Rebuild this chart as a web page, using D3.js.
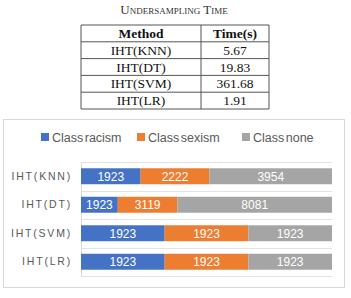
<!DOCTYPE html>
<html><head><meta charset="utf-8">
<script src="https://cdn.jsdelivr.net/npm/d3@7"></script>
<style>body{margin:0;background:#fff}svg{display:block}</style>
</head><body>
<script>
const tableTitle = "Undersampling Time";
const tableHeader = ["Method", "Time(s)"];
const methods = ["IHT(KNN)", "IHT(DT)", "IHT(SVM)", "IHT(LR)"];
const times = ["5.67", "19.83", "361.68", "1.91"];
const seriesNames = ["Class racism", "Class sexism", "Class none"];
const racism = [1923, 1923, 1923, 1923];
const sexism = [2222, 3119, 1923, 1923];
const none = [3954, 8081, 1923, 1923];
const colors = ["#4472C4", "#ED7D31", "#A5A5A5"];

const W = 351, H = 298;
const svg = d3.select("body").append("svg").attr("width", W).attr("height", H);

// Title (small caps)
svg.append("text").attr("x", 174).attr("y", 14).attr("text-anchor", "middle")
  .attr("font-family", "Liberation Serif, serif").attr("font-size", 13)
  .attr("font-variant", "small-caps").attr("fill", "#333").text(tableTitle);

// Table
const tx0 = 81, tx1 = 201, tx2 = 269, ty0 = 25, rh = 16.8;
const rows = [tableHeader].concat(methods.map((m, i) => [m, times[i]]));
const tg = svg.append("g");
rows.forEach((r, i) => {
  const yy = ty0 + i * rh;
  tg.append("text").attr("x", (tx0 + tx1) / 2).attr("y", yy + rh / 2 + 4.5)
    .attr("text-anchor", "middle").attr("font-family", "Liberation Serif, serif")
    .attr("font-size", 13.5).attr("font-weight", i === 0 ? "bold" : "normal").attr("fill", "#111").text(r[0]);
  tg.append("text").attr("x", (tx1 + tx2) / 2).attr("y", yy + rh / 2 + 4.5)
    .attr("text-anchor", "middle").attr("font-family", "Liberation Serif, serif")
    .attr("font-size", 13.5).attr("font-weight", i === 0 ? "bold" : "normal").attr("fill", "#111").text(r[1]);
});
for (let i = 0; i <= rows.length; i++) {
  tg.append("line").attr("x1", tx0).attr("x2", tx2).attr("y1", ty0 + i * rh).attr("y2", ty0 + i * rh)
    .attr("stroke", "#555").attr("stroke-width", 1);
}
[tx0, tx1, tx2].forEach(xx => tg.append("line").attr("x1", xx).attr("x2", xx)
  .attr("y1", ty0).attr("y2", ty0 + rows.length * rh).attr("stroke", "#555").attr("stroke-width", 1));

// Chart frame
svg.append("rect").attr("x", 3.5).attr("y", 119.5).attr("width", 341).attr("height", 168)
  .attr("fill", "#fff").attr("stroke", "#d9d9d9");

// Legend
const legendX = [41, 137, 242];
seriesNames.forEach((s, i) => {
  svg.append("rect").attr("x", legendX[i]).attr("y", 133).attr("width", 8).attr("height", 8).attr("fill", colors[i]);
  svg.append("text").attr("x", legendX[i] + 11).attr("y", 141.5).attr("font-family", "Liberation Sans, Arial, sans-serif")
    .attr("font-size", 12.5).attr("word-spacing", -2).attr("fill", "#595959").text(s);
});

// Plot
const pLeft = 81, pRight = 332, pTop = 162, pBottom = 276;
const y = d3.scaleBand().domain(methods).range([pTop, pBottom]).paddingInner(0.44).paddingOuter(0.22);
const x = d3.scaleLinear().domain([0, 1]).range([pLeft, pRight]);
const data = methods.map((m, i) => ({ m, vals: [racism[i], sexism[i], none[i]] }));

// band gridlines
const bandStep = (pBottom - pTop) / methods.length;
for (let i = 0; i <= methods.length; i++) {
  const yy = Math.round(pTop + i * bandStep) + 0.5;
  svg.append("line").attr("x1", pLeft).attr("x2", pRight).attr("y1", yy).attr("y2", yy)
    .attr("stroke", "#e3e3e3").attr("stroke-width", 1);
}
svg.append("line").attr("x1", pLeft + 0.5).attr("x2", pLeft + 0.5).attr("y1", pTop).attr("y2", pBottom)
  .attr("stroke", "#d9d9d9");

data.forEach(d => {
  const total = d3.sum(d.vals);
  let acc = 0;
  d.vals.forEach((v, k) => {
    const x0 = x(acc / total), x1 = x((acc + v) / total);
    svg.append("rect").attr("x", x0).attr("y", y(d.m)).attr("width", x1 - x0).attr("height", y.bandwidth())
      .attr("fill", colors[k]);
    svg.append("text").attr("x", (x0 + x1) / 2).attr("y", y(d.m) + y.bandwidth() / 2 + 4.5)
      .attr("text-anchor", "middle").attr("font-family", "Liberation Sans Narrow, Liberation Sans, sans-serif")
      .attr("font-size", 12).attr("fill", "#fff").text(v);
    acc += v;
  });
});

// Category labels
const yAxis = d3.axisLeft(y).tickSize(0).tickPadding(9);
const ag = svg.append("g").attr("transform", `translate(${pLeft},0)`).call(yAxis);
ag.select(".domain").remove();
ag.selectAll("text").attr("font-family", "Liberation Sans, Arial, sans-serif").attr("font-size", 10.5)
  .attr("letter-spacing", 1.8).attr("fill", "#595959");
</script>
</body></html>
